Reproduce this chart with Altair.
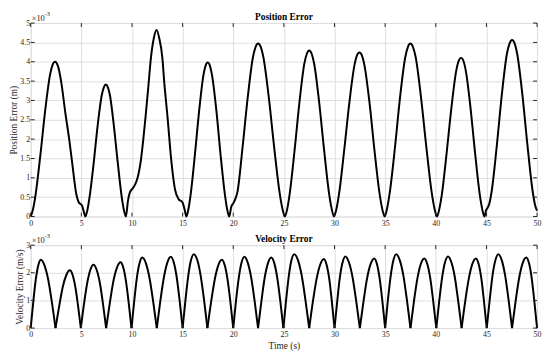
import altair as alt
import pandas as pd

# ---------------- data (error values in units of 1e-3) -------------
pos_t = [0, 0.24, 0.48, 0.96, 1.44, 1.92, 2.16, 2.4, 2.7, 3.0, 3.44, 3.8, 4.09, 4.51, 4.74, 5.07, 5.25, 5.4,
         5.60, 5.80, 6.21, 6.61, 7.02, 7.22, 7.42, 7.62, 7.82, 8.21, 8.61, 9.00, 9.20, 9.4,
         9.6, 9.78, 10.1, 10.35, 10.6, 10.85, 11.1, 11.35, 11.65, 11.85, 12.15, 12.42,
         12.7, 13.0, 13.19, 13.5, 13.9, 14.25, 14.6, 14.98, 15.2, 15.37,
         15.58, 15.79, 16.21, 16.64, 17.06, 17.27, 17.48, 17.69, 17.90, 18.33, 18.75, 19.18, 19.39, 19.6,
         19.8, 20.0, 20.2, 20.41, 20.92, 21.43, 21.94, 22.2, 22.45, 22.72, 22.98, 23.51, 24.04, 24.57, 24.84, 25.1,
         25.34, 25.58, 26.06, 26.54, 27.02, 27.26, 27.5, 27.75, 27.99, 28.48, 28.97, 29.46, 29.71, 29.95,
         30.20, 30.45, 30.95, 31.46, 31.96, 32.21, 32.46, 32.71, 32.96, 33.46, 33.95, 34.45, 34.70, 34.95,
         35.20, 35.46, 35.97, 36.47, 36.98, 37.24, 37.49, 37.75, 38.02, 38.54, 39.07, 39.59, 39.86, 40.12,
         40.36, 40.60, 41.07, 41.55, 42.02, 42.26, 42.5, 42.73, 42.96, 43.42, 43.88, 44.34, 44.57, 44.8,
         44.95, 45.1, 45.25, 45.51, 46.02, 46.52, 47.02, 47.28, 47.53, 47.79, 48.04, 48.55, 49.06, 49.57, 49.8, 50.0]
pos_v = [0, 0.20, 0.56, 1.60, 2.76, 3.68, 3.92, 4.00, 3.88, 3.50, 2.64, 2.00, 1.40, 0.57, 0.37, 0.28, 0.12, 0,
         0.17, 0.48, 1.36, 2.35, 3.14, 3.34, 3.41, 3.34, 3.14, 2.35, 1.36, 0.48, 0.17, 0,
         0.40, 0.61, 0.74, 0.85, 1.05, 1.40, 1.95, 2.60, 3.46, 4.05, 4.60, 4.82,
         4.60, 4.10, 3.46, 2.60, 1.40, 0.70, 0.45, 0.37, 0.18, 0,
         0.20, 0.56, 1.59, 2.75, 3.66, 3.90, 3.98, 3.90, 3.66, 2.75, 1.59, 0.56, 0.20, 0,
         0.25, 0.34, 0.45, 0.63, 1.79, 3.08, 4.11, 4.38, 4.47, 4.38, 4.11, 3.08, 1.79, 0.63, 0.22, 0,
         0.21, 0.60, 1.72, 2.96, 3.95, 4.20, 4.29, 4.20, 3.95, 2.96, 1.72, 0.60, 0.21, 0,
         0.21, 0.59, 1.70, 2.93, 3.90, 4.16, 4.24, 4.16, 3.90, 2.93, 1.70, 0.59, 0.21, 0,
         0.22, 0.63, 1.79, 3.08, 4.11, 4.38, 4.47, 4.38, 4.11, 3.08, 1.79, 0.63, 0.22, 0,
         0.21, 0.57, 1.64, 2.83, 3.77, 4.02, 4.10, 4.02, 3.77, 2.83, 1.64, 0.57, 0.21, 0,
         0.15, 0.22, 0.30, 0.64, 1.82, 3.15, 4.20, 4.47, 4.56, 4.47, 4.20, 3.15, 1.82, 0.64, 0.30, 0.15]

vel_t = [0, 0.25, 0.5, 0.75, 1.0, 1.36, 1.73, 2.09, 2.45,
         2.81, 3.16, 3.52, 3.87, 4.14, 4.41, 4.68, 4.95,
         5.26, 5.58, 5.89, 6.2, 6.51, 6.83, 7.14, 7.45,
         7.81, 8.16, 8.52, 8.87, 9.14, 9.41, 9.68, 9.95,
         10.22, 10.48, 10.75, 11.01, 11.37, 11.73, 12.09, 12.45,
         12.80, 13.15, 13.49, 13.84, 14.13, 14.42, 14.71, 15.0,
         15.28, 15.56, 15.83, 16.11, 16.45, 16.78, 17.12, 17.45,
         17.81, 18.17, 18.52, 18.88, 19.16, 19.44, 19.72, 20.0,
         20.27, 20.55, 20.82, 21.09, 21.43, 21.77, 22.11, 22.45,
         22.78, 23.10, 23.43, 23.75, 24.05, 24.35, 24.65, 24.95,
         25.22, 25.49, 25.75, 26.02, 26.39, 26.76, 27.13, 27.5,
         27.86, 28.23, 28.59, 28.95, 29.21, 29.48, 29.74, 30.0,
         30.27, 30.53, 30.80, 31.06, 31.42, 31.78, 32.14, 32.5,
         32.86, 33.21, 33.57, 33.92, 34.19, 34.46, 34.73, 35.0,
         35.27, 35.55, 35.82, 36.09, 36.44, 36.80, 37.15, 37.5,
         37.84, 38.18, 38.52, 38.86, 39.16, 39.46, 39.75, 40.05,
         40.34, 40.63, 40.91, 41.2, 41.54, 41.88, 42.21, 42.55,
         42.90, 43.26, 43.61, 43.96, 44.23, 44.50, 44.76, 45.03,
         45.32, 45.60, 45.89, 46.17, 46.51, 46.85, 47.19, 47.53,
         47.88, 48.23, 48.58, 48.93, 49.20, 49.47, 49.73, 50.0]
vel_v = [0, 0.94, 1.75, 2.27, 2.47, 2.27, 1.75, 0.94, 0,
         0.79, 1.48, 1.92, 2.09, 1.92, 1.48, 0.79, 0,
         0.87, 1.63, 2.11, 2.29, 2.11, 1.63, 0.87, 0,
         0.90, 1.69, 2.19, 2.38, 2.19, 1.69, 0.90, 0,
         0.97, 1.81, 2.35, 2.55, 2.35, 1.81, 0.97, 0,
         0.98, 1.83, 2.37, 2.58, 2.37, 1.83, 0.98, 0,
         1.01, 1.90, 2.46, 2.67, 2.46, 1.90, 1.01, 0,
         0.94, 1.75, 2.27, 2.47, 2.27, 1.75, 0.94, 0,
         0.98, 1.83, 2.37, 2.58, 2.37, 1.83, 0.98, 0,
         0.97, 1.81, 2.35, 2.55, 2.35, 1.81, 0.97, 0,
         1.01, 1.90, 2.46, 2.67, 2.46, 1.90, 1.01, 0,
         0.95, 1.78, 2.30, 2.50, 2.30, 1.78, 0.95, 0,
         0.98, 1.84, 2.38, 2.59, 2.38, 1.84, 0.98, 0,
         0.96, 1.79, 2.32, 2.52, 2.32, 1.79, 0.96, 0,
         1.01, 1.90, 2.46, 2.67, 2.46, 1.90, 1.01, 0,
         0.96, 1.79, 2.32, 2.52, 2.32, 1.79, 0.96, 0,
         0.98, 1.84, 2.38, 2.59, 2.38, 1.84, 0.98, 0,
         0.96, 1.79, 2.32, 2.52, 2.32, 1.79, 0.96, 0,
         1.01, 1.90, 2.46, 2.67, 2.46, 1.90, 1.01, 0,
         0.97, 1.81, 2.35, 2.55, 2.35, 1.81, 0.97, 0]

x_ticks = [0, 5, 10, 15, 20, 25, 30, 35, 40, 45, 50]
pos_ticks = [0, 0.5, 1, 1.5, 2, 2.5, 3, 3.5, 4, 4.5, 5]
vel_ticks = [0, 1, 2, 3]

# ---------------- styling -----------------------------------------------------------------------------
FONT = "Liberation Serif"
BOX = "#262626"
GRID = "#dedede"
W = 513
H1 = 196
H2 = 84
TICK = 4

pos_df = pd.DataFrame({"t": pos_t, "v": pos_v})

# velocity arches are drawn as separate pieces so the cusps at zero stay sharp
rows = []
s = 0
for t, v in zip(vel_t, vel_v):
    rows.append({"t": t, "v": v, "seg": s})
    if v == 0 and t > 0:
        s += 1
        rows.append({"t": t, "v": v, "seg": s})
vel_df = pd.DataFrame(rows)

xt_df = pd.DataFrame({"t": x_ticks})


def panel(df, ymax, yticks, ytitle, title, height, xtitle, detail):
    xs = alt.Scale(domain=[0, 50], nice=False, zero=False)
    ys = alt.Scale(domain=[0, ymax], nice=False, zero=False)
    xaxis = alt.Axis(values=x_ticks, grid=True, gridColor=GRID, gridWidth=1, domain=False, ticks=False,
                     labelFont=FONT, labelFontSize=8, labelColor=BOX, labelPadding=3, labelOverlap=False,
                     labelFlush=False,
                     title=xtitle, titleFont=FONT, titleFontSize=9.5, titleFontWeight="normal",
                     titleColor=BOX, titlePadding=2)
    yaxis = alt.Axis(values=yticks, grid=True, gridColor=GRID, gridWidth=1, domain=False, ticks=False,
                     labelFont=FONT, labelFontSize=8, labelColor=BOX, labelPadding=1, format="~g",
                     labelOverlap=False, labelFlush=False,
                     title=ytitle, titleFont=FONT, titleFontSize=9.5, titleFontWeight="normal",
                     titleColor=BOX, titlePadding=1)
    X = alt.X("t:Q", scale=xs, axis=xaxis)
    Y = alt.Y("v:Q", scale=ys, axis=yaxis)
    enc = dict(x=X, y=Y)
    if detail:
        enc["detail"] = "seg:N"
    line = alt.Chart(df).mark_line(color="black", strokeWidth=2, interpolate="monotone").encode(**enc)

    yt_df = pd.DataFrame({"v": yticks})
    top_t = alt.Chart(xt_df).mark_rule(color=BOX, strokeWidth=1).encode(
        x=X, y=alt.value(0), y2=alt.value(TICK))
    bot_t = alt.Chart(xt_df).mark_rule(color=BOX, strokeWidth=1).encode(
        x=X, y=alt.value(height), y2=alt.value(height - TICK))
    left_t = alt.Chart(yt_df).mark_rule(color=BOX, strokeWidth=1).encode(
        y=Y, x=alt.value(0), x2=alt.value(TICK))
    right_t = alt.Chart(yt_df).mark_rule(color=BOX, strokeWidth=1).encode(
        y=Y, x=alt.value(W), x2=alt.value(W - TICK))

    mult = alt.Chart(pd.DataFrame({"s": ["×10"]})).mark_text(
        align="left", baseline="alphabetic", font=FONT, fontSize=8.5, color=BOX).encode(
        x=alt.value(1), y=alt.value(-2.5), text="s:N")
    expo = alt.Chart(pd.DataFrame({"s": ["-3"]})).mark_text(
        align="left", baseline="alphabetic", font=FONT, fontSize=6.5, color=BOX).encode(
        x=alt.value(14), y=alt.value(-7), text="s:N")
    ttl = alt.Chart(pd.DataFrame({"s": [title]})).mark_text(
        align="center", baseline="alphabetic", font=FONT, fontSize=9.5, fontWeight="bold",
        color="black").encode(x=alt.value(W / 2), y=alt.value(-3.5), text="s:N")

    return alt.layer(line, top_t, bot_t, left_t, right_t, mult, expo, ttl).properties(
        width=W, height=height)


top = panel(pos_df, 5, pos_ticks, "Position Error (m)", "Position Error", H1, None, False)
bottom = panel(vel_df, 3, vel_ticks, "Velocity Error (m/s)", "Velocity Error", H2, "Time (s)", True)

chart = alt.vconcat(top, bottom, spacing=4).properties(padding=0).configure_view(
    stroke=BOX, strokeWidth=1).configure(background="white")

chart.save("out.html", embed_options={"renderer": "svg", "actions": False})
